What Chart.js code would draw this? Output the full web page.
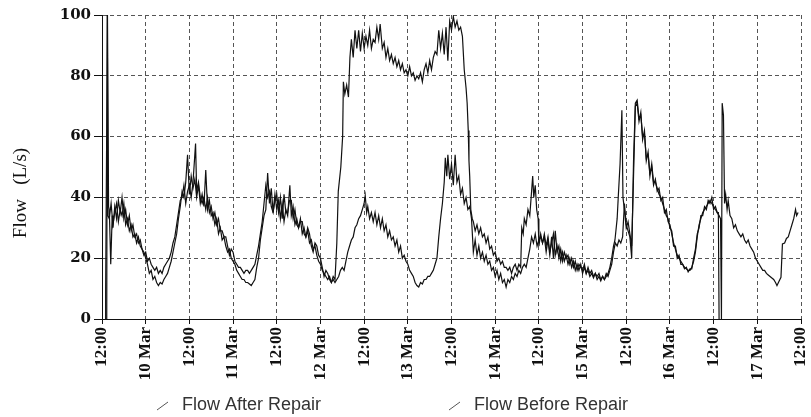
<!DOCTYPE html>
<html>
<head>
<meta charset="utf-8">
<script src="https://cdn.jsdelivr.net/npm/chart.js@4.4.0/dist/chart.umd.min.js"></script>
<style>
html, body { margin: 0; padding: 0; background: #fff; }
#wrap { width: 811px; height: 417px; position: relative; }
</style>
</head>
<body>
<div id="wrap"><canvas id="flowChart"></canvas></div>
<script>
// hours since 9 Mar 12:00, flow in L/s
var tickLabels = ['12:00', '10 Mar', '12:00', '11 Mar', '12:00', '12 Mar', '12:00', '13 Mar', '12:00',
                  '14 Mar', '12:00', '15 Mar', '12:00', '16 Mar', '12:00', '17 Mar', '12:00'];
var yTitle = 'Flow   (L/s)';
var seriesNames = ['Flow After Repair', 'Flow Before Repair'];

var afterRepair = [
  [0.9,0],[1.0,9],[1.5,100],[1.8,37],[2,36],[2.4,18],[2.8,34],[3,30],[3.5,37],[4,33],[4.5,39],[5,35],[5.5,40],
  [6,33],[6.5,36],[7,31],[7.5,34],[8,29],[8.5,31],[9,27],[9.5,28],[10,25],[10.5,26],[11,23],[11.5,22],[12,20],
  [12.5,18],[13,15],[13.5,16],[14,13],[14.5,14],[15,12],[15.5,11],[16,12],[16.5,11.5],[17,13],[17.5,14],[18,15],
  [18.5,17],[19,19],[19.5,22],[20,25],[20.5,28],[21,33],[21.5,37],[22,42],[22.5,40],[23,45],[23.5,54],[24,41],
  [24.5,47],[25,43],[25.5,46],[26,40],[26.5,44],[27,38],[27.5,41],[28,37],[28.5,49],[29,36],[29.5,39],[30,34],
  [30.5,35],[31,31],[31.5,33],[32,28],[32.5,30],[33,26],[33.5,27],[34,24],[34.5,22],[35,23],[35.5,20],[36,19],
  [36.5,18],[37,16],[37.5,15],[38,14],[38.5,13],[39,13],[39.5,12],[40,12],[40.5,11.5],[41,11],[41.5,12],[42,13],
  [42.5,17],[43,20],[43.5,26],[44,30],[44.5,34],[45,36],[45.5,48],[46,38],[46.5,43],[47,35],[47.5,41],[48,36],
  [48.5,39],[49,33],[49.5,38],[50,32],[50.5,36],[51,34],[51.6,44],[52,34],[52.5,37],[53,31],[53.5,33],[54,30],
  [54.5,33],[55,28],[55.5,30],[56,27],[56.5,29],[57,25],[57.5,26],[58,23],[58.5,24],[59,21],[59.5,19],[60,18],
  [60.5,16],[61,15],[61.5,14],[62,13],[62.5,14],[63,12],[63.5,13],[64,12],[64.5,13],[65,14],[65.5,16],[66,17],
  [66.5,16],[67,19],[67.5,22],[68,24],[68.5,26],[69,27],[69.5,30],[70,31],[70.5,33],[71,34],[71.5,36],[72,38],
  [72.3,40.6],[72.7,35],[73,37],[73.5,33],[74,35],[74.5,32],[75,35],[75.5,31],[76,34],[76.5,30],[77,33],[77.5,29],
  [78,31],[78.5,27],[79,29],[79.5,26],[80,27],[80.5,24],[81,26],[81.5,22],[82,24],[82.5,20],[83,21],[83.5,19],
  [84,18],[84.5,16],[85,15],[85.5,14],[86,12],[86.5,11],[87,10.5],[87.5,12],[88,11.5],[88.5,13],[89,13],[89.5,14],
  [90,14],[90.5,15],[91,16],[91.5,18],[92,20],[92.5,27],[93,33],[93.5,38],[94,45],[94.3,53],[94.7,47],[95,54],
  [95.5,46],[96,51],[96.5,44],[97,54],[97.5,45],[98,47],[98.5,41],[99,43],[99.5,38],[100,40],[100.5,36],[101,37],
  [101.5,33],[102,22],[102.5,26],[103,21],[103.5,24],[104,20],[104.5,22],[105,19],[105.5,21],[106,18],[106.5,19],
  [107,16],[107.5,17],[108,14],[108.5,16],[109,13],[109.5,15],[110,12],[110.5,13],[111,10.5],[111.5,13],[112,12],
  [112.5,14],[113,13],[113.5,15],[114,14],[114.5,16],[115,15],[115.5,17],[116,18],[116.5,17],[117,20],[117.5,23],
  [118,27],[118.5,25],[119,28],[119.5,24],[120,26],[120.5,27],[121,25],[121.5,28],[122,24],[122.5,27],[123,22],
  [123.5,25],[124,28],[124.5,21],[125,24],[125.5,20],[126,23],[126.5,19],[127,22],[127.5,20],[128,21],[128.5,18],
  [129,20],[129.5,17],[130,19],[130.5,16],[131,18],[131.5,17],[132,16],[132.5,18],[133,15],[133.5,17],[134,15],
  [134.5,16],[135,14],[135.5,15],[136,14],[136.5,15],[137,13],[137.5,14],[138,13],[138.5,15],[139,14],[139.5,16],
  [140,18],[140.5,22],[141,25],[141.5,24],[142,26],[142.5,25],[143,27],[143.5,38],[144,31],[144.5,29],[145,27],
  [145.5,20],[146,52],[146.5,71],[147,72],[147.5,66],[148,67],[148.5,60],[149,61],[149.5,53],[150,54],[150.5,48],
  [151,50],[151.5,44],[152,46],[152.5,42],[153,43],[153.5,39],[154,40],[154.5,35],[155,36],[155.5,32],[156,31],
  [156.5,28],[157,25],[157.5,23],[158,21],[158.5,20],[159,19],[159.5,18],[160,17],[160.5,16.5],[161,16],[161.5,16],
  [162,17],[162.5,19],[163,22],[163.5,27],[164,31],[164.5,33],[165,35],[165.5,36],[166,37],[166.5,38],[167,39],
  [167.5,38],[168,37],[168.5,36],[169,35],[169.5,34],[169.9,33],[170.15,0],[170.35,71],[170.7,67],[171,38],
  [171.3,41],[171.7,36],[172,39],[172.5,34],[173,33],[173.5,30],[174,31],[174.5,29],[175,28],[175.5,27],[176,28],
  [176.5,26],[177,25],[177.5,26],[178,24],[178.5,23],[179,22],[179.5,20],[180,19],[180.5,18],[181,17],[181.5,16],
  [182,16],[182.5,15],[183,14.5],[183.5,14],[184,13.5],[184.5,13],[185,12],[185.4,11],[186,12.5],[186.5,13.7],
  [186.9,24.7],[187.5,25],[188,26.5],[188.5,27],[189,29],[189.5,31],[190,33],[190.5,36],[190.8,34],[191.2,35]
];

var beforeRepair = [
  [1.3,0],[1.45,100],[1.65,34],[2,33],[2.5,38],[3,31],[3.5,35],[4,38],[4.5,32],[5,36],[5.5,34],[6,38],[6.5,31],
  [7,33],[7.5,29],[8,31],[8.5,27],[9,28],[9.5,25],[10,27],[10.5,24],[11,23],[11.5,21],[12,22],[12.5,19],[13,20],
  [13.5,18],[14,17],[14.5,16],[15,17],[15.5,15],[16,16],[16.5,15],[17,17],[17.5,18],[18,19],[18.5,20],[19,22],
  [19.5,25],[20,27],[20.5,31],[21,35],[21.5,39],[22,40],[22.5,44],[23,38],[23.5,42],[24,44],[24.5,40],[25,45],
  [25.7,57.7],[26,42],[26.5,45],[27,40],[27.5,38],[28,40],[28.5,36],[29,40],[29.5,35],[30,37],[30.5,33],[31,35],
  [31.5,31],[32,33],[32.5,29],[33,29],[33.5,27],[34,27],[34.5,24],[35,21],[35.5,23],[36,22],[36.5,19],[37,18],
  [37.5,17],[38,17],[38.5,16],[39,15],[39.5,16],[40,16],[40.5,15],[41,16],[41.5,17],[42,18],[42.5,21],[43,24],
  [43.5,28],[44,32],[44.5,38],[45,44],[45.5,40],[46,42],[46.5,37],[47,35],[47.5,39],[48,41],[48.5,35],[49,40],
  [49.5,33],[50,41],[50.5,35],[51,35],[51.5,39],[52,39],[52.5,33],[53,36],[53.5,31],[54,30],[54.5,32],[55,32],
  [55.5,28],[56,27],[56.5,30],[57,28],[57.5,24],[58,22],[58.5,25],[59,24],[59.5,21],[60,20],[60.5,17],[61,14],
  [61.5,16],[62,15],[62.5,13],[63,12],[63.5,14],[64,13],[64.5,25],[64.9,42],[65.6,50],[66.1,60],[66.3,78],
  [66.7,74],[67.2,77],[67.7,73],[68.1,86],[68.5,92],[69,86],[69.5,95],[70,89],[70.5,95],[71,88],[71.5,94],[72,89],
  [72.5,93],[73,90],[73.5,95],[74,89],[74.5,92],[75,91],[75.5,96],[76,92],[76.4,97],[77,89],[77.5,91],[78,86],
  [78.5,89],[79,85],[79.5,87],[80,84],[80.5,86],[81,83],[81.5,85],[82,82],[82.5,84],[83,81],[83.5,82],[84,80],
  [84.5,83],[85,80],[85.5,81],[86,78.5],[86.5,80],[87,79],[87.5,81],[88,78],[88.5,82],[89,84],[89.5,81],[90,85],
  [90.5,82],[91,86],[91.5,88],[92,87],[92.5,95],[93,89],[93.5,94],[94,87],[94.5,96],[95,85],[95.5,98],[96,95],
  [96.5,99.5],[97,96],[97.5,98],[98,95],[98.5,96],[99,93],[99.5,82],[100,76],[100.3,71],[100.6,62],[100.8,52],
  [101,47],[101.3,36],[101.7,33],[102,32],[102.5,29],[103,31],[103.5,28],[104,30],[104.5,27],[105,28],[105.5,25],
  [106,27],[106.5,23],[107,24],[107.5,21],[108,22],[108.5,19],[109,20],[109.5,18],[110,19],[110.5,17],[111,17],
  [111.5,16],[112,17],[112.5,15],[113,17],[113.5,18],[114,16],[114.5,18],[115,17],[115.3,30],[115.7,28],[116,33],
  [116.5,31],[117,36],[117.5,34],[118,42],[118.3,47],[118.6,40],[119,44],[119.4,36],[119.8,33],[120,24],[120.5,28],
  [121,25],[121.5,27],[122,22],[122.5,26],[123,21],[123.5,27],[124,20],[124.5,29],[125,22],[125.5,24],[126,19],
  [126.5,22],[127,19],[127.5,21],[128,18],[128.5,20],[129,17],[129.5,19],[130,16],[130.5,18],[131,16],[131.5,18],
  [132,15],[132.5,17],[133,15],[133.5,16],[134,14],[134.5,15],[135,13.5],[135.5,15],[136,13],[136.5,14],[137,12.5],
  [137.5,14],[138,13],[138.5,14],[139,15],[139.5,17],[140,20],[140.5,24],[140.9,26],[141.5,33],[141.8,40],
  [142.3,51],[142.8,68.7],[143.1,40],[143.5,36],[144,30],[144.5,32],[145,28],[145.5,24],[146,47],[146.5,70],
  [147,71],[147.5,65],[148,68],[148.5,59],[149,62],[149.5,52],[150,55],[150.5,47],[151,51],[151.5,45],[152,45],
  [152.5,43],[153,41],[153.5,40],[154,38],[154.5,36],[155,34],[155.5,33],[156,30],[156.5,29],[157,24],[157.5,24],
  [158,20],[158.5,21],[159,18],[159.5,18],[160,16.5],[160.5,17],[161,15.5],[161.5,16.5],[162,16.5],[162.5,20],
  [163,23],[163.5,28],[164,30],[164.5,34],[165,34],[165.5,37],[166,36],[166.5,39],[167,38],[167.5,40],[168,36],
  [168.5,37],[169,35],[169.3,35],[169.5,0]
];

// y title and legend, drawn straight onto the canvas
var frameText = {
  id: 'frameText',
  afterDraw: function (chart) {
    var ctx = chart.ctx;
    var area = chart.chartArea;
    ctx.save();
    ctx.fillStyle = '#111';
    ctx.font = '19px "Liberation Serif"';
    ctx.textAlign = 'center';
    ctx.textBaseline = 'middle';
    ctx.translate(21, area.top + 178);
    ctx.rotate(-Math.PI / 2);
    ctx.fillText(yTitle, 0, 0);
    ctx.restore();

    var slots = [157, 449];
    ctx.save();
    ctx.font = '18px "Liberation Sans"';
    ctx.textBaseline = 'alphabetic';
    ctx.textAlign = 'left';
    chart.data.datasets.forEach(function (ds, i) {
      var x = slots[i];
      ctx.strokeStyle = '#555';
      ctx.lineWidth = 1;
      ctx.beginPath();
      ctx.moveTo(x, 410);
      ctx.lineTo(x + 11, 402);
      ctx.stroke();
      ctx.fillStyle = '#333';
      ctx.fillText(ds.label, x + 25, 410);
    });
    ctx.restore();
  }
};

var ctx = document.getElementById('flowChart');
var flowChart = new Chart(ctx, {
  type: 'line',
  data: {
    datasets: [{
      label: seriesNames[0],
      data: afterRepair,
      borderColor: '#111',
      borderWidth: 1.2,
      pointRadius: 0,
      fill: false,
      tension: 0
    }, {
      label: seriesNames[1],
      data: beforeRepair,
      borderColor: '#111',
      borderWidth: 1.2,
      pointRadius: 0,
      fill: false,
      tension: 0
    }]
  },
  options: {
    responsive: true,
    maintainAspectRatio: false,
    animation: false,
    layout: { padding: { top: 15, right: 10, left: 0, bottom: 0 } },
    plugins: {
      legend: { display: false },
      tooltip: { enabled: false }
    },
    scales: {
      x: {
        type: 'linear',
        min: 0,
        max: 192,
        afterFit: function (s) { s.height = 98; s.paddingLeft = 0; s.paddingRight = 0; },
        afterBuildTicks: function (s) {
          s.ticks = tickLabels.map(function (t, i) { return { value: i * 12 }; });
        },
        ticks: {
          autoSkip: false,
          maxRotation: 90,
          minRotation: 90,
          padding: 3,
          color: '#111',
          font: { family: 'Liberation Serif', size: 17, weight: 'bold' },
          callback: function (v, i) { return tickLabels[i]; }
        },
        grid: { color: '#555', lineWidth: 1, tickLength: 5, tickColor: '#111' },
        border: { display: true, color: '#111', width: 1, dash: [4, 3] }
      },
      y: {
        min: 0,
        max: 100,
        afterFit: function (s) { s.width = 102; s.paddingTop = 0; s.paddingBottom = 0; },
        ticks: {
          stepSize: 20,
          padding: 3,
          color: '#111',
          font: { family: 'DejaVu Serif', size: 15, weight: 'bold' }
        },
        grid: { color: '#555', lineWidth: 1, tickLength: 8, tickColor: '#111' },
        border: { display: true, color: '#111', width: 1, dash: [4, 3] }
      }
    }
  },
  plugins: [frameText]
});
</script>
</body>
</html>
